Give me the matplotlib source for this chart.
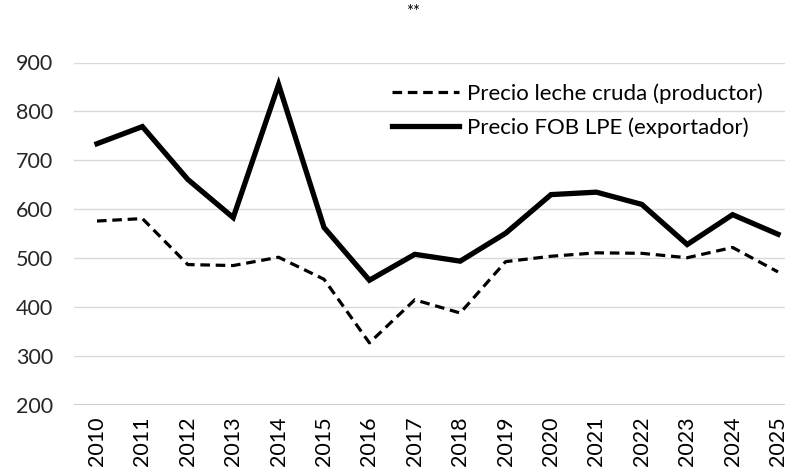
import matplotlib
matplotlib.use("Agg")
import matplotlib.pyplot as plt
import numpy as np

years = [str(y) for y in range(2010, 2026)]
precio_leche_cruda = [576, 581, 487, 485, 502, 457, 327, 415, 388, 493, 504, 511, 510, 501, 522, 472]
precio_fob_lpe = [734, 769, 661, 583, 855, 563, 455, 508, 494, 551, 630, 635, 610, 528, 589, 549]

plt.rcParams['font.family'] = ['Lato', 'DejaVu Sans']

fig = plt.figure(figsize=(7.85, 4.7), dpi=100)
ax = fig.add_axes([74.3/785, 1-405/470, (800.7-74.3)/785, (405-62.5)/470])

x = np.arange(len(years))
ax.plot(x, precio_leche_cruda, color='black', lw=2.3, linestyle=(0, (3.0, 1.8)),
        label='Precio leche cruda (productor)')
ax.plot(x, precio_fob_lpe, color='black', lw=3.8, solid_joinstyle='miter',
        label='Precio FOB LPE (exportador)')

ax.set_xlim(-0.5, len(years) - 0.5)
ax.set_ylim(200, 900)
ax.set_yticks(range(200, 901, 100))
ax.set_xticks(x)
ax.set_xticklabels(years, rotation=90)
ax.tick_params(axis='both', length=0, labelsize=15.5, colors='#000000')
ax.tick_params(axis='y', pad=15)
ax.tick_params(axis='x', pad=8)
for lab in ax.get_yticklabels():
    lab.set_color('#262626')
ax.grid(axis='y', color='#d9d9d9', lw=1)
ax.set_axisbelow(True)
for s in ax.spines.values():
    s.set_visible(False)
ax.axhline(200, color='#bfbfbf', lw=1.2, zorder=0)

fig.text(413/785, 1-12/470, '**', ha='center', va='center', fontsize=12)

leg = ax.legend(loc='upper left', bbox_to_anchor=(392/785, 1-83/470),
                bbox_transform=fig.transFigure, frameon=False, fontsize=16,
                handlelength=3.0, handletextpad=0.36, labelspacing=0.62,
                borderaxespad=0, borderpad=0)

fig.savefig('out.png', dpi=100)
